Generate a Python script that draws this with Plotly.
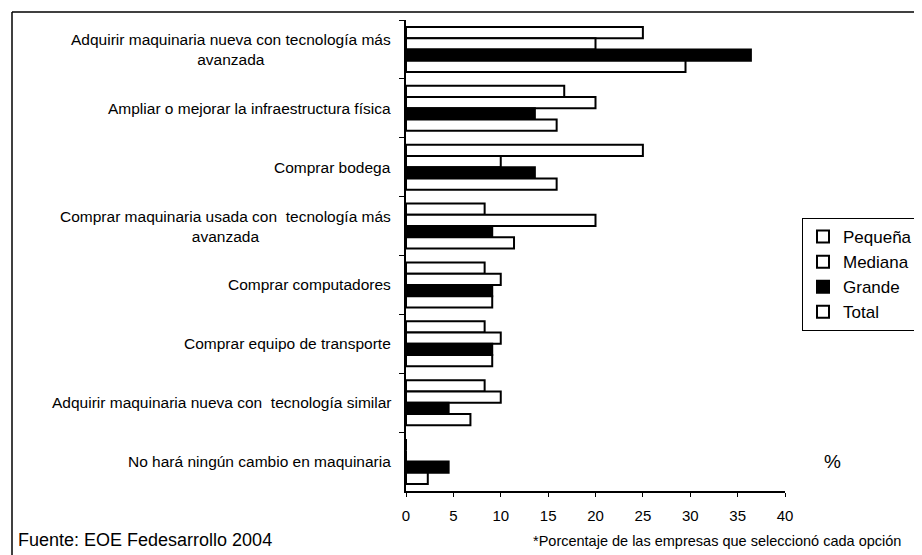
import plotly.graph_objects as go

# Porcentaje de las empresas que seleccionó cada opción
categorias = [
    "Adquirir maquinaria nueva con tecnología más<br>avanzada",
    "Ampliar o mejorar la infraestructura física",
    "Comprar bodega",
    "Comprar maquinaria usada con  tecnología más<br>avanzada",
    "Comprar computadores",
    "Comprar equipo de transporte",
    "Adquirir maquinaria nueva con  tecnología similar",
    "No hará ningún cambio en maquinaria",
]
pequena = [25.0, 16.7, 25.0, 8.3, 8.3, 8.3, 8.3, 0.0]
mediana = [20.0, 20.0, 10.0, 20.0, 10.0, 10.0, 10.0, 0.0]
grande = [36.4, 13.6, 13.6, 9.1, 9.1, 9.1, 4.5, 4.5]
total = [29.5, 15.9, 15.9, 11.4, 9.1, 9.1, 6.8, 2.3]

series = [("Pequeña", pequena, "white"),
          ("Mediana", mediana, "white"),
          ("Grande", grande, "black"),
          ("Total", total, "white")]

FONT = "Liberation Sans, Arial, sans-serif"

fig = go.Figure()
for name, vals, fill in series:
    fig.add_trace(go.Bar(
        y=categorias, x=vals, name=name, orientation="h",
        marker=dict(color=fill, line=dict(color="black", width=2)),
    ))

# page offset (body margin) and plot area in page pixels
OFF = 8
FW, FH = 922 - OFF, 555 - OFF
L, R, T, B = 406, 785, 20, 491
W, H = R - L, B - T
def px(x):
    return (x - L) / W
def py(y):
    return (B - y) / H

annotations = []
for i, cat in enumerate(categorias):
    annotations.append(dict(
        x=px(393), y=i, xref="paper", yref="y", text=cat,
        xanchor="right", yanchor="middle", align="center", showarrow=False,
        font=dict(size=15.5, color="black", family=FONT),
    ))
annotations += [
    dict(x=px(822), y=py(461), xref="paper", yref="paper", text="%",
         xanchor="left", yanchor="middle", showarrow=False,
         font=dict(size=19, color="black", family=FONT)),
    dict(x=px(16), y=py(540), xref="paper", yref="paper",
         text="Fuente: EOE Fedesarrollo 2004",
         xanchor="left", yanchor="middle", showarrow=False,
         font=dict(size=18, color="black", family=FONT)),
    dict(x=px(531), y=py(541), xref="paper", yref="paper",
         text="*Porcentaje de las empresas que seleccionó cada opción",
         xanchor="left", yanchor="middle", showarrow=False,
         font=dict(size=14.5, color="black", family=FONT)),
]

fig.update_layout(
    width=FW, height=FH,
    margin=dict(l=L - OFF, r=FW - (R - OFF), t=T - OFF, b=FH - (B - OFF),
                autoexpand=False),
    paper_bgcolor="white", plot_bgcolor="white",
    barmode="group", bargap=0.235, bargroupgap=0,
    font=dict(family=FONT, color="black"),
    showlegend=True,
    legend=dict(
        x=px(802), y=py(218), xanchor="left", yanchor="top",
        bgcolor="white", bordercolor="black", borderwidth=1,
        font=dict(size=17, family=FONT), traceorder="normal",
        itemwidth=30,
    ),
    xaxis=dict(
        range=[0, 40], dtick=5, showgrid=False, zeroline=False,
        showline=True, linecolor="black", linewidth=1.5,
        ticks="outside", ticklen=4, tickcolor="black",
        tickfont=dict(size=15, family=FONT, color="black"),
        ticklabelstandoff=6,
    ),
    yaxis=dict(
        autorange="reversed", showgrid=False, zeroline=False,
        showline=True, linecolor="black", linewidth=1.5,
        ticks="outside", ticklen=5, tickcolor="black", tickson="boundaries",
        showticklabels=False,
    ),
    annotations=annotations,
    shapes=[
        dict(type="line", xref="paper", yref="paper",
             x0=px(12), x1=px(940), y0=py(12), y1=py(12),
             line=dict(color="black", width=1.5)),
        dict(type="line", xref="paper", yref="paper",
             x0=px(12), x1=px(12), y0=py(12), y1=py(570),
             line=dict(color="black", width=1.5)),
    ],
)

fig.write_html("out.html")
